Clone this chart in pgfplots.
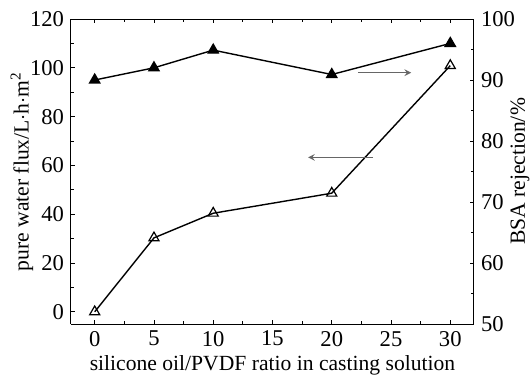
\documentclass[border=0pt]{standalone}
\usepackage{pgfplots}
\pgfplotsset{compat=1.18}
\usepackage{fontspec}
\setmainfont{Liberation Serif}
\begin{document}
\begin{tikzpicture}
\pgfplotsset{
  common/.style={
    width=201.5pt, height=152.5pt, scale only axis,
    at={(0,0)}, anchor=south west,
    xmin=-2, xmax=32,
    xtick={0,5,...,30},
    minor x tick num=1,
    tick align=inside,
    major tick length=2.2pt, minor tick length=1.3pt,
    every tick/.style={black, line width=0.4pt},
    axis line style={line width=0.5pt},
    tick label style={font=\fontsize{11.3}{12}\selectfont},
    label style={font=\fontsize{10.8}{12}\selectfont},
    /pgf/number format/assume math mode=true,
  }
}
\begin{axis}[common,
  ymin=-5, ymax=120,
  ytick={0,20,...,120},
  minor y tick num=1,
  axis y line*=left,
  axis x line*=box,
  xlabel={silicone oil/PVDF ratio in casting solution},
  ylabel={pure water flux/L$\cdot$h$\cdot$m\textsuperscript{2}},
  xlabel style={at={(axis description cs:0.5,0)}, anchor=base, yshift=-23pt},
  ylabel style={at={(axis description cs:0,0.5)}, anchor=center, yshift=24.5pt},
]
\addplot[black, line width=0.7pt, mark=triangle, mark size=2.9pt, mark options={solid, line width=0.6pt, fill=white}]
  coordinates {(0,0) (5,30.3) (10,40.4) (20,48.6) (30,100.9)};
\draw[-stealth, gray!80!black, line width=0.5pt] (axis cs:23.5,63.3) -- (axis cs:18,63.3);
\end{axis}
\begin{axis}[common,
  ymin=50, ymax=100,
  ytick={50,60,...,100},
  minor y tick num=1,
  axis y line*=right,
  axis x line=none,
  ylabel={BSA rejection/\%},
  ylabel style={at={(axis description cs:1,0.5)}, anchor=center, yshift=-23pt},
]
\addplot[black, line width=0.7pt, mark=triangle*, mark size=2.9pt, mark options={solid}]
  coordinates {(0,90) (5,92) (10,94.9) (20,90.9) (30,96)};
\draw[-stealth, gray!80!black, line width=0.5pt] (axis cs:22.2,91.2) -- (axis cs:26.7,91.2);
\end{axis}
\pgfresetboundingbox
\path (-35.5pt,-26.5pt) rectangle (229.5pt,162pt);
\end{tikzpicture}
\end{document}
